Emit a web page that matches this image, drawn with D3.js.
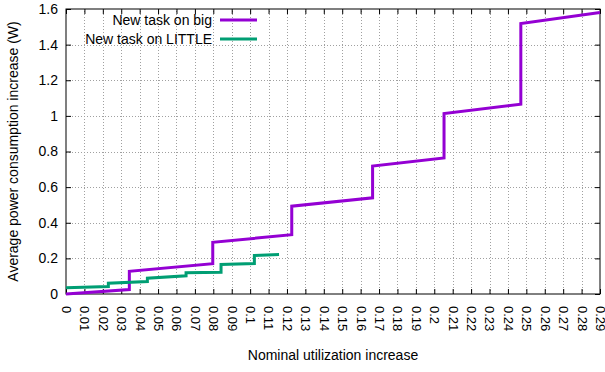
<!DOCTYPE html>
<html>
<head>
<meta charset="utf-8">
<script src="https://cdn.jsdelivr.net/npm/d3@7"></script>
<style>
  body { margin: 0; background: #fff; }
  svg { display: block; font-family: "Liberation Sans", Arial, sans-serif; }
</style>
</head>
<body>
<svg id="chart" width="605" height="372"></svg>
<script>
// series (step curves, x = utilization, y = watts)
const bigX = [0, 0.0344, 0.0344, 0.0797, 0.0797, 0.1226, 0.1226, 0.1665, 0.1665, 0.2053, 0.2053, 0.247, 0.247, 0.29];
const bigY = [0, 0.025, 0.127, 0.17, 0.29, 0.333, 0.493, 0.54, 0.718, 0.764, 1.013, 1.066, 1.518, 1.58];
const littleX = [0, 0.023, 0.023, 0.0442, 0.0442, 0.0652, 0.0652, 0.0842, 0.0842, 0.1023, 0.1023, 0.1157];
const littleY = [0.035, 0.042, 0.061, 0.070, 0.089, 0.102, 0.119, 0.122, 0.166, 0.171, 0.216, 0.222];

const xTicks = d3.range(0, 30).map(i => i / 100);
const yTicks = [0, 0.2, 0.4, 0.6, 0.8, 1, 1.2, 1.4, 1.6];

const seriesNames = [`New task on big`, `New task on LITTLE`];
const seriesColors = [`#9400d3`, `#009e73`];

const margin = {top: 9, right: 5, bottom: 78, left: 66};
const width = 605, height = 372;
const fontSize = 14;

const svg = d3.select(`#chart`);

const x = d3.scaleLinear().domain([0, 0.29]).range([margin.left, width - margin.right]);
const y = d3.scaleLinear().domain([0, 1.6]).range([height - margin.bottom, margin.top]);

// grid
const grid = svg.append(`g`)
  .attr(`stroke`, `#a0a0a0`)
  .attr(`stroke-width`, 1)
  .attr(`stroke-dasharray`, `1,2`);

grid.selectAll(`.gx`)
  .data(xTicks.slice(1, -1))
  .enter().append(`line`)
  .attr(`x1`, d => Math.round(x(d)) + 0.5)
  .attr(`x2`, d => Math.round(x(d)) + 0.5)
  .attr(`y1`, y(0))
  .attr(`y2`, y(1.6));

grid.selectAll(`.gy`)
  .data(yTicks.slice(1, -1))
  .enter().append(`line`)
  .attr(`x1`, x(0))
  .attr(`x2`, x(0.29))
  .attr(`y1`, d => Math.round(y(d)) + 0.5)
  .attr(`y2`, d => Math.round(y(d)) + 0.5);

// axes
const xAxis = svg.append(`g`)
  .attr(`transform`, `translate(0,${y(0)})`)
  .call(d3.axisBottom(x).tickValues(xTicks).tickSizeInner(-5).tickSizeOuter(0)
    .tickFormat(d => d3.format(`~g`)(+d.toFixed(2))));

xAxis.select(`.domain`).remove();
xAxis.selectAll(`text`)
  .attr(`font-size`, 13)
  .attr(`fill`, `#000`)
  .attr(`transform`, `rotate(90)`)
  .attr(`text-anchor`, `start`)
  .attr(`x`, 12)
  .attr(`y`, 0)
  .attr(`dy`, `0.35em`);

const xTop = svg.append(`g`)
  .attr(`transform`, `translate(0,${y(1.6)})`)
  .call(d3.axisTop(x).tickValues(xTicks).tickSizeInner(-5).tickSizeOuter(0).tickFormat(``));
xTop.select(`.domain`).remove();

const yAxis = svg.append(`g`)
  .attr(`transform`, `translate(${x(0)},0)`)
  .call(d3.axisLeft(y).tickValues(yTicks).tickSizeInner(-5).tickSizeOuter(0).tickPadding(8)
    .tickFormat(d3.format(`~g`)));
yAxis.select(`.domain`).remove();
yAxis.selectAll(`text`).attr(`font-size`, fontSize).attr(`fill`, `#000`);

const yRight = svg.append(`g`)
  .attr(`transform`, `translate(${x(0.29)},0)`)
  .call(d3.axisRight(y).tickValues(yTicks).tickSizeInner(-5).tickSizeOuter(0).tickFormat(``));
yRight.select(`.domain`).remove();

svg.selectAll(`.tick line`).attr(`stroke`, `#000`);

// border
svg.append(`rect`)
  .attr(`x`, x(0))
  .attr(`y`, y(1.6))
  .attr(`width`, x(0.29) - x(0))
  .attr(`height`, y(0) - y(1.6))
  .attr(`fill`, `none`)
  .attr(`stroke`, `#000`)
  .attr(`stroke-width`, 1);

// lines
const line = d3.line().x(d => x(d[0])).y(d => y(d[1]));

const series = [
  d3.zip(bigX, bigY),
  d3.zip(littleX, littleY)
];

svg.selectAll(`.series`)
  .data(series)
  .enter().append(`path`)
  .attr(`fill`, `none`)
  .attr(`stroke`, (d, i) => seriesColors[i])
  .attr(`stroke-width`, 3)
  .attr(`d`, line);

// legend
const legend = svg.selectAll(`.legend`)
  .data(seriesNames)
  .enter().append(`g`)
  .attr(`transform`, (d, i) => `translate(0,${20 + i * 19})`);

legend.append(`text`)
  .attr(`x`, 212)
  .attr(`dy`, `0.35em`)
  .attr(`text-anchor`, `end`)
  .attr(`font-size`, fontSize)
  .text(d => d);

legend.append(`line`)
  .attr(`x1`, 220)
  .attr(`x2`, 257)
  .attr(`stroke`, (d, i) => seriesColors[i])
  .attr(`stroke-width`, 3);

// axis titles
svg.append(`text`)
  .attr(`x`, (x(0) + x(0.29)) / 2)
  .attr(`y`, 360)
  .attr(`text-anchor`, `middle`)
  .attr(`font-size`, fontSize)
  .text(`Nominal utilization increase`);

svg.append(`text`)
  .attr(`transform`, `translate(18,${(y(0) + y(1.6)) / 2}) rotate(-90)`)
  .attr(`text-anchor`, `middle`)
  .attr(`font-size`, fontSize)
  .text(`Average power consumption increase (W)`);
</script>
</body>
</html>
